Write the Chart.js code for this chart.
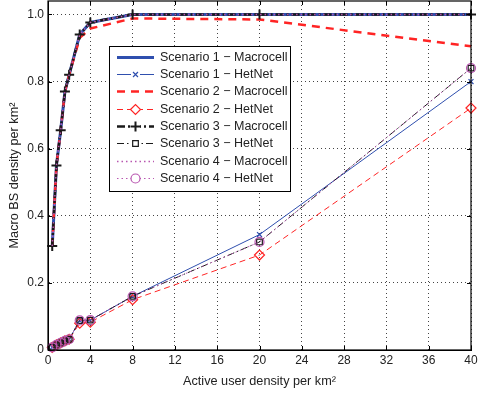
<!DOCTYPE html>
<html><head><meta charset="utf-8">
<script src="https://cdn.jsdelivr.net/npm/chart.js@4/dist/chart.umd.min.js"></script>
<style>html,body{margin:0;padding:0;background:#fff}#wrap{width:478px;height:393px;overflow:hidden}#c{display:block;margin-top:-6px}</style>
</head><body><div id="wrap"><canvas id="c" width="478" height="399"></canvas></div>
<script>
const userDensity = [0.4, 0.8, 1.2, 1.6, 2.0, 3, 4, 8, 20, 40];
const s1Macro = [0.31, 0.55, 0.655, 0.77, 0.82, 0.94, 0.976, 1.0, 1.0, 1.0];
const s1Het   = [0.008, 0.015, 0.021, 0.027, 0.032, 0.088, 0.089, 0.16, 0.344, 0.80];
const s2Macro = [0.31, 0.55, 0.655, 0.77, 0.82, 0.93, 0.958, 0.988, 0.985, 0.905];
const s2Het   = [0.008, 0.015, 0.021, 0.027, 0.032, 0.08, 0.083, 0.15, 0.283, 0.721];
const s3Macro = [0.31, 0.55, 0.655, 0.77, 0.82, 0.94, 0.976, 1.0, 1.0, 1.0];
const s3Het   = [0.008, 0.015, 0.021, 0.027, 0.032, 0.088, 0.089, 0.16, 0.322, 0.84];
const s4Macro = [0.31, 0.55, 0.655, 0.77, 0.82, 0.94, 0.976, 1.0, 1.0, 1.0];
const s4Het   = [0.008, 0.015, 0.021, 0.027, 0.032, 0.088, 0.089, 0.16, 0.322, 0.84];
const labels = ['Scenario 1 \u2212 Macrocell','Scenario 1 \u2212 HetNet','Scenario 2 \u2212 Macrocell','Scenario 2 \u2212 HetNet','Scenario 3 \u2212 Macrocell','Scenario 3 \u2212 HetNet','Scenario 4 \u2212 Macrocell','Scenario 4 \u2212 HetNet'];
const xTicks = [0,4,8,12,16,20,24,28,32,36,40];
const yTicks = [0,0.2,0.4,0.6,0.8,1.0];

const BLUE='#2f4fae', RED='#ff2424', BLACK='#1a1a1a', MAG='#b856b0';
const pts = ys => userDensity.map((x,i)=>({x:x,y:ys[i]}));
const FONT = '"Liberation Sans", Arial, sans-serif';
const OFF = 6; // canvas is shifted up by this many pixels

const styles = [
  {data:s1Macro,color:BLUE,width:3,dash:[],point:false},
  {data:s1Het,color:BLUE,width:1,dash:[],point:'crossRot',r:3.5},
  {data:s2Macro,color:RED,width:2.5,dash:[8,6],point:false},
  {data:s2Het,color:RED,width:1,dash:[6,4],point:'rectRot',r:5},
  {data:s3Macro,color:BLACK,width:2.5,dash:[8,3,2,3],point:'cross',r:5,pw:2},
  {data:s3Het,color:BLACK,width:1,dash:[7,3,1.5,3],point:'rect',r:4},
  {data:s4Macro,color:MAG,width:1.5,dash:[1.5,3],point:false},
  {data:s4Het,color:MAG,width:1,dash:[1.5,3],point:'circle',r:4.5}
];

const datasets = styles.map((s,i)=>({
  label: labels[i],
  data: pts(s.data),
  borderColor: s.color,
  borderWidth: s.width,
  borderDash: s.dash,
  backgroundColor: 'rgba(0,0,0,0)',
  pointStyle: s.point || 'circle',
  pointRadius: s.point ? s.r : 0,
  pointBorderWidth: s.pw || 1.2,
  pointBorderColor: s.color,
  pointBackgroundColor: 'rgba(0,0,0,0)',
  fill: false,
  tension: 0,
  clip: 6,
  order: 7 - i
}));

const framePlugin = {
  id:'frame',
  afterDatasetsDraw(chart){
    const {ctx, chartArea:a, scales} = chart;
    ctx.save();
    ctx.strokeStyle='#000'; ctx.lineWidth=1.2; ctx.setLineDash([]);
    ctx.strokeRect(a.left, a.top, a.right-a.left, a.bottom-a.top);
    ctx.lineWidth=1;
    xTicks.forEach(v=>{const px=Math.round(scales.x.getPixelForValue(v))+0.5;
      ctx.beginPath();ctx.moveTo(px,a.bottom);ctx.lineTo(px,a.bottom-4);ctx.moveTo(px,a.top);ctx.lineTo(px,a.top+4);ctx.stroke();});
    yTicks.forEach(v=>{const py=Math.round(scales.y.getPixelForValue(v))+0.5;
      ctx.beginPath();ctx.moveTo(a.left,py);ctx.lineTo(a.left+4,py);ctx.moveTo(a.right,py);ctx.lineTo(a.right-4,py);ctx.stroke();});
    // legend
    const L=109.5, T=46.5+OFF, W=181, H=145;
    ctx.fillStyle='#fff'; ctx.fillRect(L,T,W,H);
    ctx.strokeStyle='#000'; ctx.lineWidth=1; ctx.strokeRect(L,T,W,H);
    ctx.font='12.5px '+FONT; ctx.textBaseline='middle'; ctx.textAlign='left';
    styles.forEach((s,i)=>{
      const y=Math.round(56.7+OFF+i*17.3)+0.5;
      ctx.save();
      ctx.strokeStyle=s.color; ctx.lineWidth=s.width; ctx.setLineDash(s.dash);
      ctx.beginPath(); ctx.moveTo(117,y); ctx.lineTo(154,y); ctx.stroke();
      ctx.restore();
      if(s.point){
        ctx.save(); ctx.setLineDash([]);
        ctx.fillStyle='#fff'; ctx.fillRect(131,y-5,9,10);
        ctx.lineWidth=s.pw||1.2; ctx.strokeStyle=s.color;
        Chart.helpers.drawPoint(ctx,{pointStyle:s.point,radius:s.r,borderWidth:s.pw||1.2},135.5,y);
        ctx.restore();
      }
      ctx.fillStyle='#222'; ctx.fillText(labels[i],160,y+0.5);
    });
    ctx.restore();
  }
};

new Chart(document.getElementById('c'),{
  type:'line',
  data:{datasets:datasets},
  options:{
    responsive:false, animation:false, devicePixelRatio:1,
    layout:{padding:{top:1,right:5,left:0,bottom:0}},
    plugins:{legend:{display:false},tooltip:{enabled:false}},
    scales:{
      x:{type:'linear',min:0,max:40,
        afterBuildTicks:s=>{s.ticks=xTicks.map(v=>({value:v}));},
        afterFit:s=>{s.height=43;s.paddingLeft=0;s.paddingRight=0;},
        ticks:{font:{family:FONT,size:12},color:'#222',padding:3,maxRotation:0,callback:v=>String(v)},
        grid:{color:'#444',lineWidth:1,drawTicks:false,tickLength:0},
        border:{display:true,color:'#000',dash:[1,3]},
        title:{display:true,text:'Active user density per km\u00b2',font:{family:FONT,size:12.7},color:'#222',padding:{top:0,bottom:4}}
      },
      y:{type:'linear',min:0,max:1.04,
        afterBuildTicks:s=>{s.ticks=yTicks.map(v=>({value:v}));},
        afterFit:s=>{s.width=48;s.paddingTop=0;s.paddingBottom=0;},
        ticks:{font:{family:FONT,size:12},color:'#222',padding:4,callback:v=>v===0?'0':Number(v).toFixed(1)},
        grid:{color:'#444',lineWidth:1,drawTicks:false,tickLength:0},
        border:{display:true,color:'#000',dash:[1,3]},
        title:{display:true,text:'Macro BS density per km\u00b2',font:{family:FONT,size:12.7},color:'#222',padding:{top:7,bottom:0}}
      }
    }
  },
  plugins:[framePlugin]
});
</script></body></html>
